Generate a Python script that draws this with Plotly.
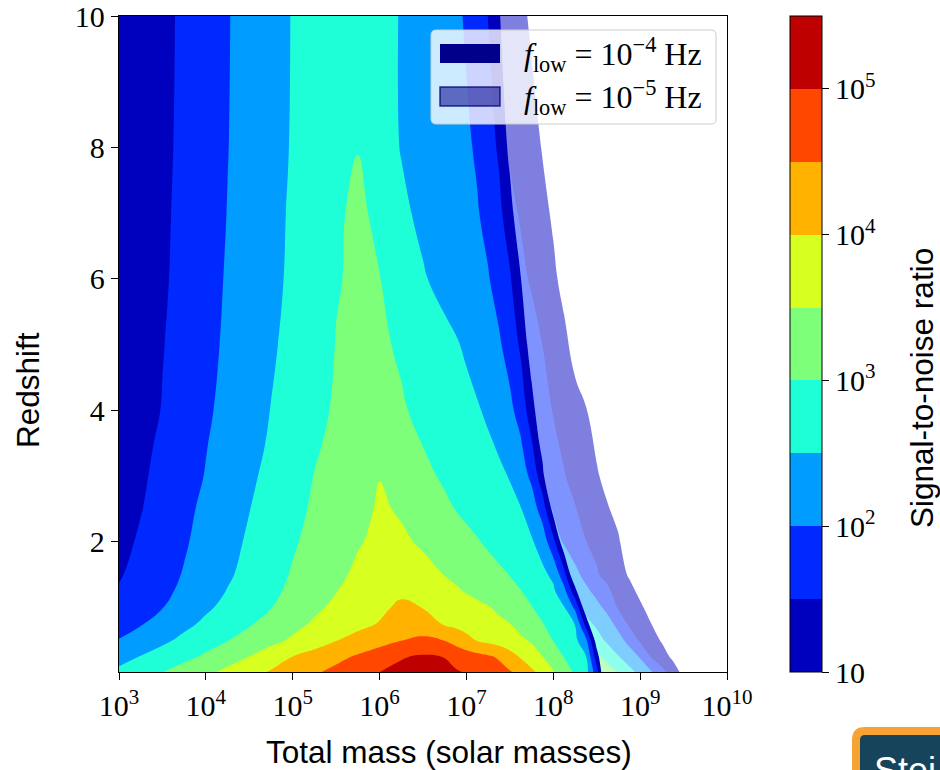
import plotly.graph_objects as go

# ------------------------------------------------------------------
# Data: log10(signal-to-noise ratio) on a grid of
# log10(total mass / solar masses) x redshift, for two low-frequency cut-offs.
# ------------------------------------------------------------------
log_mass_1e4 = [3.0, 3.25, 3.5, 3.75, 4.0, 4.25, 4.5, 4.75, 5.0, 5.25, 5.5, 5.75,
                6.0, 6.25, 6.5, 6.75, 6.875, 7.0, 7.125, 7.25, 7.375, 7.5, 7.625,
                7.75, 7.875, 8.0, 8.125, 8.25, 8.375, 8.5, 8.625, 8.75]
redshift_1e4 = [0, 0.25, 0.5, 0.75, 1.0, 1.25, 1.5, 2.0, 2.5, 3.0, 3.5, 4.0,
                5.0, 6.0, 7.0, 8.0, 10.0]
log_snr_1e4 = [
    [2.62, 2.82, 3.02, 3.23, 3.43, 3.64, 3.86, 4.07, 4.27, 4.46, 4.64, 4.82, 5.02, 5.12, 5.20, 5.12, 5.06, 4.99, 4.89, 4.78, 4.68, 4.57, 4.40, 4.13, 3.85, 3.55, 3.25, 2.95, 2.67, 1.75, 0.0, 0.0],
    [2.34, 2.52, 2.70, 2.88, 3.08, 3.29, 3.51, 3.75, 4.01, 4.19, 4.38, 4.56, 4.74, 4.97, 5.06, 4.99, 4.86, 4.75, 4.66, 4.57, 4.45, 4.20, 3.96, 3.73, 3.51, 3.25, 2.99, 2.77, 2.54, 1.25, 0.0, 0.0],
    [2.03, 2.20, 2.41, 2.61, 2.80, 2.99, 3.18, 3.37, 3.57, 3.78, 3.99, 4.17, 4.33, 4.49, 4.60, 4.49, 4.32, 4.14, 3.98, 3.88, 3.78, 3.68, 3.58, 3.45, 3.22, 2.99, 2.81, 2.62, 2.13, 0.75, 0.0, 0.0],
    [1.75, 1.97, 2.18, 2.39, 2.59, 2.78, 2.96, 3.17, 3.37, 3.56, 3.72, 3.87, 4.03, 4.20, 4.20, 3.96, 3.89, 3.81, 3.74, 3.66, 3.59, 3.51, 3.36, 3.19, 3.02, 2.85, 2.67, 2.49, 1.35, 0.10, 0.0, 0.0],
    [1.62, 1.80, 1.99, 2.22, 2.43, 2.62, 2.81, 2.99, 3.20, 3.42, 3.59, 3.74, 3.89, 4.10, 3.99, 3.84, 3.77, 3.69, 3.61, 3.53, 3.42, 3.29, 3.15, 3.02, 2.86, 2.70, 2.53, 1.90, 0.65, 0.0, 0.0, 0.0],
    [1.54, 1.72, 1.90, 2.09, 2.30, 2.52, 2.71, 2.90, 3.10, 3.30, 3.49, 3.63, 3.77, 3.90, 3.80, 3.64, 3.56, 3.47, 3.38, 3.29, 3.19, 3.10, 3.01, 2.87, 2.72, 2.58, 2.15, 1.20, 0.0, 0.0, 0.0, 0.0],
    [1.46, 1.65, 1.84, 2.03, 2.24, 2.44, 2.64, 2.84, 3.04, 3.23, 3.42, 3.57, 3.69, 3.75, 3.62, 3.49, 3.41, 3.33, 3.25, 3.16, 3.08, 2.99, 2.87, 2.74, 2.61, 2.40, 1.68, 0.50, 0.0, 0.0, 0.0, 0.0],
    [1.36, 1.56, 1.75, 1.95, 2.16, 2.36, 2.56, 2.76, 2.95, 3.13, 3.30, 3.47, 3.58, 3.56, 3.45, 3.28, 3.20, 3.11, 3.03, 2.94, 2.84, 2.75, 2.65, 2.55, 2.29, 1.64, 0.63, 0.0, 0.0, 0.0, 0.0, 0.0],
    [1.28, 1.48, 1.69, 1.89, 2.10, 2.30, 2.49, 2.69, 2.88, 3.06, 3.22, 3.37, 3.55, 3.46, 3.27, 3.08, 2.99, 2.91, 2.83, 2.76, 2.68, 2.60, 2.52, 2.25, 1.78, 0.83, 0.0, 0.0, 0.0, 0.0, 0.0, 0.0],
    [1.23, 1.43, 1.63, 1.83, 2.02, 2.22, 2.42, 2.62, 2.81, 3.01, 3.16, 3.32, 3.49, 3.29, 3.10, 2.94, 2.86, 2.79, 2.71, 2.64, 2.57, 2.48, 2.22, 1.90, 1.18, 0.0, 0.0, 0.0, 0.0, 0.0, 0.0, 0.0],
    [1.18, 1.38, 1.58, 1.78, 1.98, 2.17, 2.36, 2.55, 2.75, 2.95, 3.09, 3.22, 3.25, 3.12, 2.99, 2.84, 2.77, 2.70, 2.62, 2.55, 2.45, 2.25, 2.05, 1.55, 0.78, 0.0, 0.0, 0.0, 0.0, 0.0, 0.0, 0.0],
    [1.11, 1.32, 1.52, 1.73, 1.93, 2.13, 2.32, 2.51, 2.70, 2.89, 3.05, 3.17, 3.15, 3.04, 2.91, 2.76, 2.69, 2.62, 2.54, 2.43, 2.27, 2.11, 1.81, 1.22, 0.53, 0.0, 0.0, 0.0, 0.0, 0.0, 0.0, 0.0],
    [1.09, 1.29, 1.48, 1.68, 1.88, 2.07, 2.25, 2.44, 2.63, 2.83, 3.01, 3.10, 3.06, 2.95, 2.79, 2.62, 2.54, 2.44, 2.31, 2.18, 2.06, 1.81, 1.42, 0.72, 0.0, 0.0, 0.0, 0.0, 0.0, 0.0, 0.0, 0.0],
    [1.05, 1.25, 1.44, 1.64, 1.84, 2.04, 2.21, 2.39, 2.58, 2.78, 2.98, 3.05, 3.01, 2.80, 2.54, 2.36, 2.28, 2.19, 2.11, 2.03, 1.82, 1.56, 1.02, 0.40, 0.0, 0.0, 0.0, 0.0, 0.0, 0.0, 0.0, 0.0],
    [1.03, 1.23, 1.42, 1.62, 1.81, 2.01, 2.19, 2.37, 2.56, 2.75, 2.94, 3.08, 2.91, 2.59, 2.40, 2.25, 2.18, 2.10, 2.03, 1.87, 1.63, 1.20, 0.58, 0.0, 0.0, 0.0, 0.0, 0.0, 0.0, 0.0, 0.0, 0.0],
    [1.04, 1.20, 1.40, 1.60, 1.80, 1.99, 2.18, 2.36, 2.53, 2.67, 2.81, 2.99, 2.71, 2.48, 2.34, 2.20, 2.13, 2.06, 1.95, 1.71, 1.43, 0.86, 0.20, 0.0, 0.0, 0.0, 0.0, 0.0, 0.0, 0.0, 0.0, 0.0],
    [1.12, 1.25, 1.39, 1.58, 1.78, 1.98, 2.14, 2.34, 2.52, 2.65, 2.75, 2.80, 2.68, 2.47, 2.33, 2.18, 2.09, 1.95, 1.75, 1.49, 1.06, 0.50, 0.20, 0.0, 0.0, 0.0, 0.0, 0.0, 0.0, 0.0, 0.0, 0.0],
]

log_mass_1e5 = [7.0, 7.125, 7.25, 7.375, 7.5, 7.625, 7.75, 7.875, 8.0, 8.125, 8.25,
                8.375, 8.5, 8.625, 8.75, 8.875, 9.0, 9.125, 9.25, 9.375, 9.5,
                9.625, 9.75]
redshift_1e5 = [0, 0.25, 0.5, 0.75, 1.0, 1.5, 2.0, 3.0, 4.0, 6.0, 8.0, 10.0]
log_snr_1e5 = [
    [4.90, 4.82, 4.74, 4.66, 4.58, 4.51, 4.42, 4.34, 4.26, 4.18, 4.01, 3.75, 3.49, 3.25, 2.99, 2.69, 2.39, 2.10, 1.69, 1.27, 0.88, 0.48, 0.09],
    [4.60, 4.52, 4.44, 4.36, 4.28, 4.20, 4.12, 4.04, 3.96, 3.84, 3.60, 3.36, 3.12, 2.84, 2.53, 2.25, 1.96, 1.49, 1.20, 0.92, 0.64, 0.35, 0.07],
    [4.20, 4.13, 4.06, 3.99, 3.92, 3.85, 3.80, 3.74, 3.68, 3.46, 3.23, 3.01, 2.70, 2.41, 2.17, 1.85, 1.43, 1.19, 0.96, 0.73, 0.50, 0.27, 0.04],
    [4.02, 3.90, 3.80, 3.70, 3.60, 3.51, 3.40, 3.30, 3.20, 3.10, 2.90, 2.65, 2.41, 2.18, 1.86, 1.42, 1.22, 1.01, 0.80, 0.60, 0.39, 0.18, 0.0],
    [3.80, 3.70, 3.60, 3.51, 3.40, 3.30, 3.20, 3.12, 2.92, 2.73, 2.53, 2.34, 2.14, 1.87, 1.45, 1.26, 1.06, 0.87, 0.67, 0.48, 0.28, 0.09, 0.0],
    [3.60, 3.51, 3.35, 3.20, 3.10, 3.01, 2.93, 2.75, 2.57, 2.36, 2.13, 1.86, 1.55, 1.34, 1.15, 0.96, 0.77, 0.58, 0.39, 0.20, 0.0, 0.0, 0.0],
    [3.51, 3.40, 3.25, 3.10, 2.95, 2.80, 2.58, 2.37, 2.17, 1.96, 1.73, 1.51, 1.38, 1.22, 1.06, 0.66, 0.40, 0.20, 0.05, 0.0, 0.0, 0.0, 0.0],
    [3.30, 3.20, 3.05, 2.90, 2.80, 2.56, 2.28, 2.01, 1.77, 1.53, 1.33, 1.13, 1.05, 0.85, 0.60, 0.35, 0.16, 0.0, 0.0, 0.0, 0.0, 0.0, 0.0],
    [3.02, 2.88, 2.75, 2.63, 2.49, 2.25, 1.99, 1.73, 1.47, 1.29, 1.10, 1.02, 0.80, 0.55, 0.37, 0.18, 0.0, 0.0, 0.0, 0.0, 0.0, 0.0, 0.0],
    [2.49, 2.31, 2.14, 1.97, 1.79, 1.62, 1.44, 1.26, 1.07, 0.89, 0.71, 0.52, 0.34, 0.15, 0.0, 0.0, 0.0, 0.0, 0.0, 0.0, 0.0, 0.0, 0.0],
    [2.25, 2.04, 1.83, 1.62, 1.44, 1.29, 1.13, 0.98, 0.83, 0.68, 0.52, 0.37, 0.22, 0.07, 0.0, 0.0, 0.0, 0.0, 0.0, 0.0, 0.0, 0.0, 0.0],
    [2.01, 1.79, 1.58, 1.41, 1.25, 1.09, 0.94, 0.78, 0.63, 0.47, 0.31, 0.16, 0.0, 0.0, 0.0, 0.0, 0.0, 0.0, 0.0, 0.0, 0.0, 0.0, 0.0],
]

# contour band boundaries in log10(SNR) and their (jet) fill colours
snr_level_start = 1.0
snr_level_end = 5.0
snr_level_step = 0.5
snr_colorbar_top = 5.5
band_colors = ["rgb(0,0,191)", "rgb(0,41,255)", "rgb(0,156,255)", "rgb(31,255,215)",
               "rgb(125,255,122)", "rgb(215,255,31)", "rgb(255,178,0)",
               "rgb(255,71,0)", "rgb(191,0,0)"]
cbar_tickvals = [1, 2, 3, 4, 5]
cbar_ticktext = ["10", "10<sup>2</sup>", "10<sup>3</sup>", "10<sup>4</sup>", "10<sup>5</sup>"]
mass_exponents = [3, 4, 5, 6, 7, 8, 9, 10]
redshift_ticks = [2, 4, 6, 8, 10]
legend_labels = ["<i>f</i><sub>low</sub> = 10<sup>\u22124</sup> Hz",
                 "<i>f</i><sub>low</sub> = 10<sup>\u22125</sup> Hz"]

# ------------------------------------------------------------------
W, H = 940, 770
ML, MR, MT, MB = 119, 213, 16, 98
PW, PH = W - ML - MR, H - MT - MB


def px(X):
    return (X - ML) / PW


def py(Y):
    return (H - MB - Y) / PH


def rounded_rect(x0, y0, x1, y1, r):
    return (f"M {px(x0 + r)},{py(y0)} L {px(x1 - r)},{py(y0)} "
            f"Q {px(x1)},{py(y0)} {px(x1)},{py(y0 + r)} L {px(x1)},{py(y1 - r)} "
            f"Q {px(x1)},{py(y1)} {px(x1 - r)},{py(y1)} L {px(x0 + r)},{py(y1)} "
            f"Q {px(x0)},{py(y1)} {px(x0)},{py(y1 - r)} L {px(x0)},{py(y0 + r)} "
            f"Q {px(x0)},{py(y0)} {px(x0 + r)},{py(y0)} Z")


nb = len(band_colors)
contour_scale = [[0.0, "rgba(255,255,255,0)"]] + [[(i + 1) / nb, c] for i, c in enumerate(band_colors)]
cbar_scale = []
for i, c in enumerate(band_colors):
    cbar_scale.append([i / nb, c])
    cbar_scale.append([(i + 1) / nb, c])

contours = dict(start=snr_level_start, end=snr_level_end, size=snr_level_step,
                coloring="fill", showlines=False)

fig = go.Figure()
fig.add_trace(go.Contour(
    x=[10 ** v for v in log_mass_1e5], y=redshift_1e5, z=log_snr_1e5,
    autocontour=False, contours=contours, colorscale=contour_scale,
    showscale=False, line=dict(width=0, smoothing=1.3), opacity=0.5,
    hoverinfo="skip", name="f_low = 1e-5 Hz"))
fig.add_trace(go.Contour(
    x=[10 ** v for v in log_mass_1e4], y=redshift_1e4, z=log_snr_1e4,
    autocontour=False, contours=contours, colorscale=contour_scale,
    showscale=False, line=dict(width=0, smoothing=1.3),
    hoverinfo="skip", name="f_low = 1e-4 Hz"))

serif = "Liberation Serif"
sans = "Liberation Sans"
tickfont = dict(family=serif, size=30, color="black")

# colour bar (log10 SNR)
fig.add_trace(go.Scatter(
    x=[1e12], y=[50], mode="markers", showlegend=False, hoverinfo="skip",
    marker=dict(color=[snr_level_start], cmin=snr_level_start, cmax=snr_colorbar_top,
                colorscale=cbar_scale, showscale=True,
                colorbar=dict(x=px(790), xanchor="left", xpad=0, y=0.5, yanchor="middle",
                              len=1, lenmode="fraction", ypad=0, thickness=32,
                              thicknessmode="pixels", outlinewidth=1, outlinecolor="black",
                              ticks="outside", ticklen=7, tickwidth=1.3, tickcolor="black",
                              tickvals=cbar_tickvals, ticktext=cbar_ticktext,
                              tickfont=tickfont))))

fig.update_layout(
    width=W, height=H, autosize=False,
    margin=dict(l=ML, r=MR, t=MT, b=MB, pad=0, autoexpand=False),
    paper_bgcolor="white", plot_bgcolor="white",
    showlegend=False,
    font=dict(family=serif, color="black"),
    xaxis=dict(type="log", range=[3, 10], tickvals=[10 ** e for e in mass_exponents],
               ticktext=[f"10<sup>{e}</sup>" for e in mass_exponents],
               ticks="outside", ticklen=7, tickwidth=1.3, tickcolor="black",
               showline=True, linecolor="black", linewidth=1.3, mirror=True,
               showgrid=False, zeroline=False, tickfont=tickfont,
               ticklabeloverflow="allow", automargin=False),
    yaxis=dict(range=[0.02, 10], tickvals=redshift_ticks,
               ticktext=[str(t) for t in redshift_ticks],
               ticks="outside", ticklen=7, tickwidth=1.3, tickcolor="black",
               showline=True, linecolor="black", linewidth=1.3, mirror=True,
               showgrid=False, zeroline=False, tickfont=tickfont,
               ticklabeloverflow="allow", automargin=False),
)

title_font = dict(family=sans, size=31.5, color="black")
fig.add_annotation(text="Total mass (solar masses)", x=px(449), y=py(752), xref="paper",
                   yref="paper", showarrow=False, xanchor="center", yanchor="middle",
                   font=title_font)
fig.add_annotation(text="Redshift", x=px(28), y=py(390), xref="paper", yref="paper",
                   showarrow=False, textangle=-90, xanchor="center", yanchor="middle",
                   font=title_font)
fig.add_annotation(text="Signal-to-noise ratio", x=px(922), y=py(388), xref="paper",
                   yref="paper", showarrow=False, textangle=-90, xanchor="center",
                   yanchor="middle", font=title_font)

# legend (frame, patches, labels)
shapes = [
    dict(type="path", xref="paper", yref="paper", path=rounded_rect(431, 30, 716, 124, 5),
         fillcolor="rgba(255,255,255,0.8)", line=dict(color="rgb(204,204,204)", width=1)),
    dict(type="rect", xref="paper", yref="paper", x0=px(440), x1=px(500), y0=py(44), y1=py(63),
         fillcolor="rgb(0,0,139)", line=dict(width=0)),
    dict(type="rect", xref="paper", yref="paper", x0=px(440), x1=px(500), y0=py(87), y1=py(106),
         fillcolor="rgba(0,0,139,0.55)", line=dict(color="rgba(0,0,120,0.8)", width=1.5)),
    # cropped slide button at bottom-right
    dict(type="path", xref="paper", yref="paper", path=rounded_rect(856, 731, 1010, 830, 9),
         fillcolor="rgb(22,68,90)", line=dict(color="rgb(247,163,52)", width=8)),
]
fig.update_layout(shapes=shapes)
for lab, yc in zip(legend_labels, [54, 97]):
    fig.add_annotation(text=lab, x=px(522), y=py(yc), xref="paper", yref="paper",
                       showarrow=False, xanchor="left", yanchor="middle",
                       font=dict(family=serif, size=32, color="black"))
fig.add_annotation(text="Stei", x=px(872), y=py(748), xref="paper", yref="paper",
                   showarrow=False, xanchor="left", yanchor="top",
                   font=dict(family=sans, size=36, color="white"))

fig.write_html("out.html")
